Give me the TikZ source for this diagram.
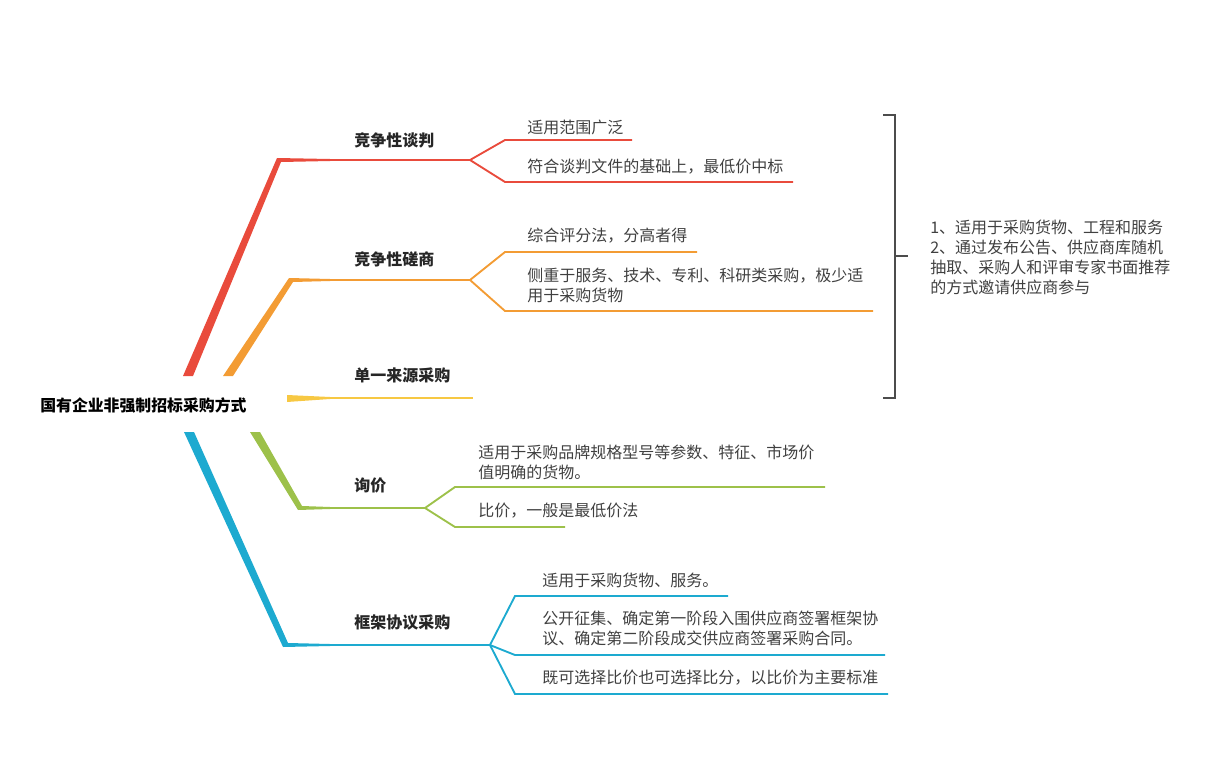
\documentclass[tikz,border=0pt]{standalone}
\usepackage{fontspec}
\setmainfont{Noto Sans CJK SC}
\begin{document}
\begin{tikzpicture}[x=0.75pt,y=-0.75pt,
  lbl/.style={font=\bfseries\fontsize{12}{13}\selectfont,text=black!85,anchor=west,inner sep=0},
  leaf/.style={font=\fontsize{12}{15}\selectfont,text=black!75,anchor=west,inner sep=0,align=left},
  thin/.style={line width=1.4pt}]
\useasboundingbox (0,0) rectangle (1226,781);
\definecolor{cr}{HTML}{E94B3C}\definecolor{co}{HTML}{F39C34}\definecolor{cy}{HTML}{F7C843}
\definecolor{cg}{HTML}{9DC14A}\definecolor{cb}{HTML}{1DAAD0}
\node[font=\bfseries\fontsize{11.9}{13}\selectfont,anchor=west,inner sep=0] (root) at (40,405) {国有企业非强制招标采购方式};
% red
\fill[cr] (183,376)--(193,376)--(281,162)--(330,161)--(330,159)--(277,158)--cycle;
\coordinate (r1) at (330,160); \coordinate (rf) at (470,160);
\draw[cr,thin] (r1)--(rf)--(505,140)--(632,140);
\draw[cr,thin] (rf)--(505,182)--(793,182);
\node[lbl] (n1) at (354,140) {竞争性谈判};
\node[leaf] at (527,127) {适用范围广泛};
\node[leaf] at (527,167) {符合谈判文件的基础上，最低价中标};
% orange
\fill[co] (223,376)--(233,376)--(293,282)--(330,281)--(330,279)--(289,278)--cycle;
\coordinate (of) at (470,280);
\draw[co,thin] (330,280)--(of)--(505,252)--(697,252);
\draw[co,thin] (of)--(505,311)--(873,311);
\node[lbl] (n2) at (354,259) {竞争性磋商};
\node[leaf] at (527,236) {综合评分法，分高者得};
\node[leaf] at (527,285) {侧重于服务、技术、专利、科研类采购，极少适\\用于采购货物};
% yellow
\fill[cy] (287,395)--(330,397)--(330,399)--(287,402)--cycle;
\draw[cy,thin] (330,398)--(473,398);
\node[lbl] (n3) at (354,375) {单一来源采购};
% green
\fill[cg] (250,432)--(260,432)--(302,506)--(330,507)--(330,509)--(298,510)--cycle;
\coordinate (gf) at (425,508);
\draw[cg,thin] (330,508)--(gf)--(455,487)--(825,487);
\draw[cg,thin] (gf)--(455,527)--(565,527);
\node[lbl] (n4) at (354,485) {询价};
\node[leaf] at (478,462) {适用于采购品牌规格型号等参数、特征、市场价\\值明确的货物。};
\node[leaf] at (478,511) {比价，一般是最低价法};
% blue
\fill[cb] (184,432)--(194,432)--(288,643)--(330,644)--(330,646)--(283,647)--cycle;
\coordinate (bf) at (490,645);
\draw[cb,thin] (330,645)--(bf)--(515,596)--(728,596);
\draw[cb,thin] (bf)--(515,655)--(885,655);
\draw[cb,thin] (bf)--(515,694)--(888,694);
\node[lbl] (n5) at (354,623) {框架协议采购};
\node[leaf] at (542,580) {适用于采购货物、服务。};
\node[leaf] at (542,628) {公开征集、确定第一阶段入围供应商签署框架协\\议、确定第二阶段成交供应商签署采购合同。};
\node[leaf] at (542,678) {既可选择比价也可选择比分，以比价为主要标准};
% bracket
\draw[black!70,line width=1.3pt] (883,115)--(895,115)--(895,398)--(883,398);
\draw[black!70,line width=1.3pt] (895,256)--(908,256);
\node[leaf] (note) at (930,257) {1、适用于采购货物、工程和服务\\2、通过发布公告、供应商库随机\\抽取、采购人和评审专家书面推荐\\的方式邀请供应商参与};
\end{tikzpicture}
\end{document}
